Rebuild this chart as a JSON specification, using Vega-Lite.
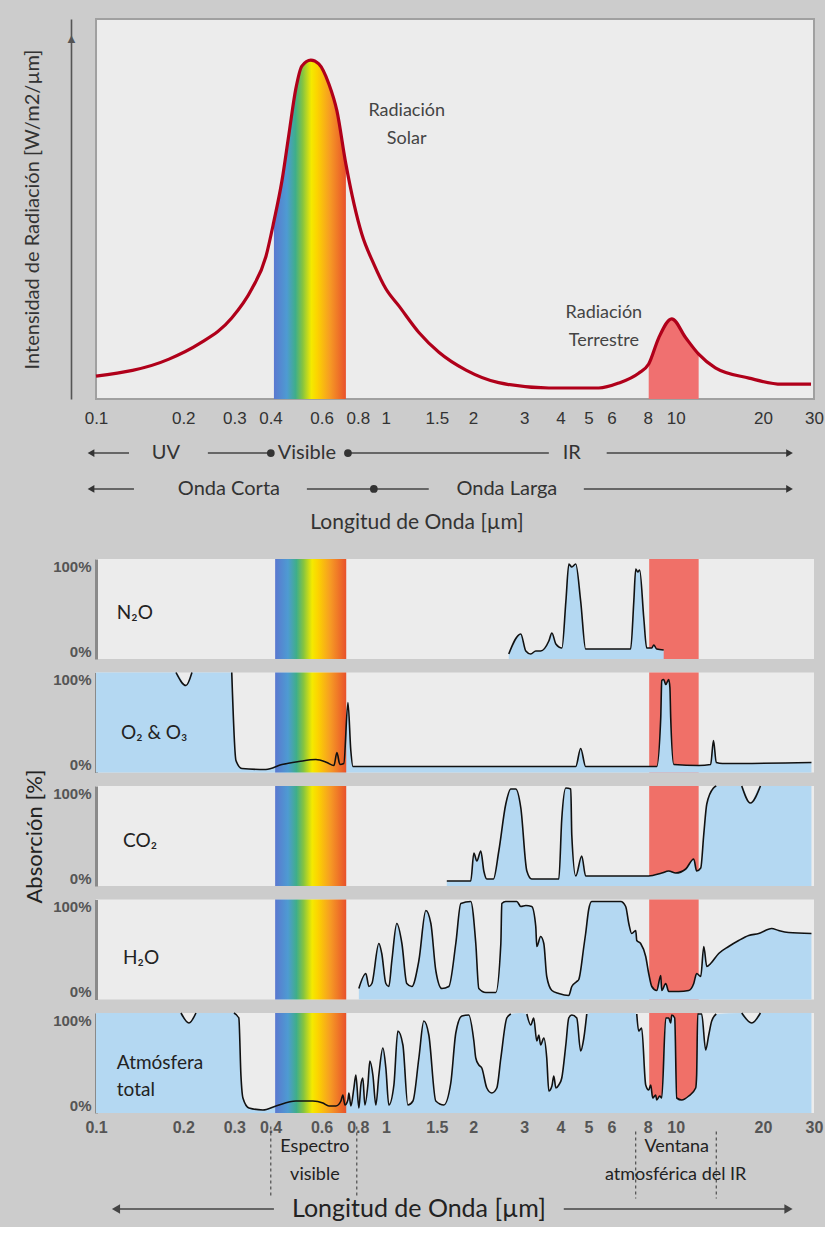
{
  "$schema": "https://vega.github.io/schema/vega-lite/v6.json",
  "background": "#cccccc",
  "padding": {"left": 21, "top": 18, "right": 0, "bottom": 0},
  "config": {
    "view": {"fill": "#ececec", "stroke": null},
    "axis": {"grid": false}
  },
  "datasets": {
    "solar": [
      {"x": 0.1, "v": 6}, {"x": 0.1786, "v": 10.5}, {"x": 0.2265, "v": 14.5}, {"x": 0.294, "v": 21.3},
      {"x": 0.345, "v": 29}, {"x": 0.3857, "v": 37.5}, {"x": 0.411, "v": 46.8}, {"x": 0.438, "v": 57.4},
      {"x": 0.463, "v": 69.7}, {"x": 0.489, "v": 81.6}, {"x": 0.513, "v": 87.6}, {"x": 0.551, "v": 89.2},
      {"x": 0.587, "v": 88.2}, {"x": 0.636, "v": 82.9}, {"x": 0.678, "v": 75.8}, {"x": 0.728, "v": 61.8},
      {"x": 0.826, "v": 43.4}, {"x": 0.909, "v": 35.5}, {"x": 1.0, "v": 29}, {"x": 1.109, "v": 24.5}, {"x": 1.3, "v": 17.5},
      {"x": 1.524, "v": 12.3}, {"x": 1.89, "v": 7.6}, {"x": 2.45, "v": 4.3}, {"x": 3.65, "v": 2.9},
      {"x": 5.43, "v": 2.9}, {"x": 6.36, "v": 4.2}, {"x": 7.45, "v": 6.8}, {"x": 8.07, "v": 9.2},
      {"x": 8.74, "v": 16.1}, {"x": 9.69, "v": 21.1}, {"x": 10.83, "v": 16.1}, {"x": 12.0, "v": 11.8},
      {"x": 13.7, "v": 8.2}, {"x": 17.9, "v": 5.5}, {"x": 23.2, "v": 3.9}, {"x": 29.3, "v": 3.9}
    ],
    "n2o": [
      {"x": 2.655, "v": 5, "s": "a"}, {"x": 2.92, "v": 25, "s": "a"}, {"x": 3.04, "v": 8, "s": "a"},
      {"x": 3.16, "v": 5, "s": "a"}, {"x": 3.29, "v": 8, "s": "a"}, {"x": 3.42, "v": 8, "s": "a"},
      {"x": 3.65, "v": 18, "s": "a"}, {"x": 3.74, "v": 26, "s": "a"}, {"x": 3.86, "v": 15, "s": "a"},
      {"x": 4.05, "v": 11, "s": "a"}, {"x": 4.18, "v": 58, "s": "a"}, {"x": 4.28, "v": 95, "s": "a"},
      {"x": 4.38, "v": 92, "s": "a"}, {"x": 4.52, "v": 95, "s": "a"}, {"x": 4.7, "v": 58, "s": "a"},
      {"x": 4.89, "v": 10, "s": "a"}, {"x": 6.99, "v": 10, "s": "a"}, {"x": 7.17, "v": 58, "s": "a"},
      {"x": 7.28, "v": 90, "s": "a"}, {"x": 7.4, "v": 87, "s": "a"}, {"x": 7.51, "v": 89, "s": "a"},
      {"x": 7.76, "v": 41, "s": "a"}, {"x": 7.94, "v": 11, "s": "a"}, {"x": 8.27, "v": 11, "s": "a"},
      {"x": 8.4, "v": 14, "s": "a"}, {"x": 8.6, "v": 10, "s": "a"}, {"x": 9.09, "v": 9, "s": "a"}
    ],
    "o2": [
      {"x": 0.1, "v": 100}, {"x": 0.1888, "v": 100, "s": "n"}, {"x": 0.2044, "v": 87, "s": "n"},
      {"x": 0.2143, "v": 100, "s": "n"}, {"x": 0.294, "v": 100, "s": "a"}, {"x": 0.304, "v": 12, "s": "a"},
      {"x": 0.3186, "v": 4, "s": "a"}, {"x": 0.3857, "v": 3, "s": "a"}, {"x": 0.438, "v": 8, "s": "a"},
      {"x": 0.501, "v": 11, "s": "a"}, {"x": 0.5736, "v": 13, "s": "a"}, {"x": 0.626, "v": 10, "s": "a"},
      {"x": 0.662, "v": 7, "s": "a"}, {"x": 0.678, "v": 20, "s": "a"}, {"x": 0.694, "v": 8, "s": "a"},
      {"x": 0.716, "v": 9, "s": "a"}, {"x": 0.74, "v": 70, "s": "a"}, {"x": 0.757, "v": 22, "s": "a"},
      {"x": 0.77, "v": 6, "s": "a"}, {"x": 0.853, "v": 6, "s": "a"}, {"x": 4.52, "v": 6, "s": "a"},
      {"x": 4.7, "v": 24, "s": "a"}, {"x": 4.89, "v": 6, "s": "a"}, {"x": 8.6, "v": 6, "s": "a"},
      {"x": 8.88, "v": 55, "s": "a"}, {"x": 8.95, "v": 92, "s": "a"}, {"x": 9.09, "v": 93, "s": "a"},
      {"x": 9.24, "v": 88, "s": "a"}, {"x": 9.46, "v": 93, "s": "a"}, {"x": 9.55, "v": 85, "s": "a"},
      {"x": 9.61, "v": 55, "s": "a"}, {"x": 9.85, "v": 8, "s": "a"}, {"x": 12.0, "v": 7, "s": "a"},
      {"x": 13.2, "v": 8, "s": "a"}, {"x": 13.5, "v": 32, "s": "a"}, {"x": 13.8, "v": 10, "s": "a"},
      {"x": 14.5, "v": 9, "s": "a"}, {"x": 29.4, "v": 10, "s": "a"}
    ],
    "co2": [
      {"x": 1.623, "v": 5, "s": "a"}, {"x": 1.963, "v": 5, "s": "a"}, {"x": 2.012, "v": 33, "s": "a"},
      {"x": 2.06, "v": 25, "s": "a"}, {"x": 2.126, "v": 35, "s": "a"}, {"x": 2.178, "v": 15, "s": "a"},
      {"x": 2.23, "v": 7, "s": "a"}, {"x": 2.35, "v": 7, "s": "a"}, {"x": 2.453, "v": 35, "s": "a"},
      {"x": 2.593, "v": 82, "s": "a"}, {"x": 2.698, "v": 97, "s": "a"}, {"x": 2.806, "v": 97, "s": "a"},
      {"x": 2.922, "v": 78, "s": "a"}, {"x": 3.065, "v": 15, "s": "a"}, {"x": 3.186, "v": 7, "s": "a"},
      {"x": 3.951, "v": 7, "s": "a"}, {"x": 4.045, "v": 67, "s": "a"}, {"x": 4.177, "v": 98, "s": "a"},
      {"x": 4.345, "v": 97, "s": "a"}, {"x": 4.38, "v": 51, "s": "a"}, {"x": 4.52, "v": 10, "s": "a"},
      {"x": 4.74, "v": 30, "s": "a"}, {"x": 4.89, "v": 10, "s": "a"}, {"x": 8.07, "v": 10, "s": "a"},
      {"x": 8.95, "v": 13, "s": "a"}, {"x": 9.46, "v": 15, "s": "a"}, {"x": 10.0, "v": 13, "s": "a"},
      {"x": 10.83, "v": 17, "s": "a"}, {"x": 11.54, "v": 27, "s": "a"}, {"x": 11.81, "v": 15, "s": "a"},
      {"x": 12.2, "v": 18, "s": "a"}, {"x": 12.5, "v": 52, "s": "a"}, {"x": 12.8, "v": 82, "s": "a"},
      {"x": 13.5, "v": 98, "s": "a"}, {"x": 13.8, "v": 100, "s": "a"}, {"x": 16.9, "v": 100, "s": "n"},
      {"x": 18.1, "v": 83, "s": "n"}, {"x": 19.6, "v": 100, "s": "n"}, {"x": 29.4, "v": 100}
    ],
    "h2o": [
      {"x": 0.807, "v": 11, "s": "a"}, {"x": 0.853, "v": 26, "s": "a"}, {"x": 0.874, "v": 13, "s": "a"},
      {"x": 0.895, "v": 16, "s": "a"}, {"x": 0.946, "v": 56, "s": "a"}, {"x": 0.968, "v": 46, "s": "a"},
      {"x": 1.0, "v": 16, "s": "a"}, {"x": 1.024, "v": 13, "s": "a"}, {"x": 1.049, "v": 39, "s": "a"},
      {"x": 1.091, "v": 76, "s": "a"}, {"x": 1.136, "v": 56, "s": "a"}, {"x": 1.181, "v": 16, "s": "a"},
      {"x": 1.229, "v": 13, "s": "a"}, {"x": 1.3, "v": 39, "s": "a"}, {"x": 1.374, "v": 89, "s": "a"},
      {"x": 1.43, "v": 76, "s": "a"}, {"x": 1.487, "v": 29, "s": "a"}, {"x": 1.56, "v": 11, "s": "a"},
      {"x": 1.649, "v": 13, "s": "a"}, {"x": 1.743, "v": 56, "s": "a"}, {"x": 1.814, "v": 96, "s": "a"},
      {"x": 1.963, "v": 98, "s": "a"}, {"x": 2.043, "v": 56, "s": "a"}, {"x": 2.093, "v": 11, "s": "a"},
      {"x": 2.213, "v": 7, "s": "a"}, {"x": 2.395, "v": 7, "s": "a"}, {"x": 2.493, "v": 56, "s": "a"},
      {"x": 2.512, "v": 96, "s": "a"}, {"x": 2.593, "v": 98, "s": "a"}, {"x": 2.829, "v": 98, "s": "a"},
      {"x": 2.922, "v": 93, "s": "a"}, {"x": 3.04, "v": 94, "s": "a"}, {"x": 3.186, "v": 93, "s": "a"},
      {"x": 3.29, "v": 73, "s": "a"}, {"x": 3.317, "v": 53, "s": "a"}, {"x": 3.42, "v": 63, "s": "a"},
      {"x": 3.507, "v": 56, "s": "a"}, {"x": 3.59, "v": 23, "s": "a"}, {"x": 3.74, "v": 9, "s": "a"},
      {"x": 3.95, "v": 6, "s": "a"}, {"x": 4.276, "v": 4, "s": "a"}, {"x": 4.38, "v": 13, "s": "a"},
      {"x": 4.557, "v": 18, "s": "a"}, {"x": 4.63, "v": 20, "s": "a"}, {"x": 4.82, "v": 53, "s": "a"},
      {"x": 4.89, "v": 66, "s": "a"}, {"x": 5.01, "v": 90, "s": "a"}, {"x": 5.13, "v": 98, "s": "a"},
      {"x": 6.46, "v": 98, "s": "a"}, {"x": 6.72, "v": 93, "s": "a"}, {"x": 6.89, "v": 76, "s": "a"},
      {"x": 7.05, "v": 66, "s": "a"}, {"x": 7.28, "v": 69, "s": "a"}, {"x": 7.34, "v": 59, "s": "a"},
      {"x": 7.57, "v": 56, "s": "a"}, {"x": 7.88, "v": 43, "s": "a"}, {"x": 8.07, "v": 26, "s": "a"},
      {"x": 8.27, "v": 13, "s": "a"}, {"x": 8.6, "v": 9, "s": "a"}, {"x": 8.88, "v": 24, "s": "a"},
      {"x": 8.95, "v": 9, "s": "a"}, {"x": 9.24, "v": 16, "s": "a"}, {"x": 9.46, "v": 8, "s": "a"},
      {"x": 10.24, "v": 8, "s": "a"}, {"x": 11.09, "v": 9, "s": "a"}, {"x": 11.54, "v": 16, "s": "a"},
      {"x": 11.81, "v": 26, "s": "a"}, {"x": 12.2, "v": 23, "s": "a"}, {"x": 12.5, "v": 53, "s": "a"},
      {"x": 12.8, "v": 33, "s": "a"}, {"x": 13.2, "v": 36, "s": "a"}, {"x": 14.07, "v": 46, "s": "a"},
      {"x": 15.23, "v": 53, "s": "a"}, {"x": 16.49, "v": 59, "s": "a"}, {"x": 17.86, "v": 64, "s": "a"},
      {"x": 19.33, "v": 66, "s": "a"}, {"x": 21.43, "v": 71, "s": "a"}, {"x": 22.65, "v": 69, "s": "a"},
      {"x": 24.5, "v": 67, "s": "a"}, {"x": 29.4, "v": 66, "s": "a"}
    ],
    "tot": [
      {"x": 0.1, "v": 100}, {"x": 0.1964, "v": 100, "s": "n"}, {"x": 0.2093, "v": 90, "s": "n"},
      {"x": 0.2212, "v": 100, "s": "n"}, {"x": 0.2991, "v": 100, "s": "a"}, {"x": 0.311, "v": 95, "s": "a"},
      {"x": 0.3162, "v": 38, "s": "a"}, {"x": 0.3213, "v": 15, "s": "a"}, {"x": 0.3371, "v": 5, "s": "a"},
      {"x": 0.3766, "v": 3, "s": "a"}, {"x": 0.4175, "v": 7, "s": "a"}, {"x": 0.4894, "v": 12, "s": "a"},
      {"x": 0.5598, "v": 12, "s": "a"}, {"x": 0.6065, "v": 10, "s": "a"}, {"x": 0.6362, "v": 7, "s": "a"},
      {"x": 0.6725, "v": 7, "s": "a"}, {"x": 0.6998, "v": 12, "s": "a"}, {"x": 0.7108, "v": 18, "s": "a"},
      {"x": 0.7222, "v": 8, "s": "a"}, {"x": 0.7396, "v": 13, "s": "a"}, {"x": 0.7455, "v": 20, "s": "a"},
      {"x": 0.7574, "v": 7, "s": "a"}, {"x": 0.7758, "v": 25, "s": "a"}, {"x": 0.788, "v": 38, "s": "a"},
      {"x": 0.807, "v": 5, "s": "a"}, {"x": 0.82, "v": 28, "s": "a"}, {"x": 0.833, "v": 35, "s": "a"},
      {"x": 0.8464, "v": 8, "s": "a"}, {"x": 0.867, "v": 28, "s": "a"}, {"x": 0.8807, "v": 52, "s": "a"},
      {"x": 0.902, "v": 38, "s": "a"}, {"x": 0.9237, "v": 8, "s": "a"}, {"x": 0.946, "v": 38, "s": "a"},
      {"x": 0.9765, "v": 65, "s": "a"}, {"x": 1.0, "v": 45, "s": "a"}, {"x": 1.024, "v": 8, "s": "a"},
      {"x": 1.066, "v": 28, "s": "a"}, {"x": 1.1, "v": 82, "s": "a"}, {"x": 1.145, "v": 68, "s": "a"},
      {"x": 1.191, "v": 8, "s": "a"}, {"x": 1.24, "v": 12, "s": "a"}, {"x": 1.3, "v": 55, "s": "a"},
      {"x": 1.352, "v": 92, "s": "a"}, {"x": 1.407, "v": 78, "s": "a"}, {"x": 1.487, "v": 12, "s": "a"},
      {"x": 1.585, "v": 8, "s": "a"}, {"x": 1.675, "v": 30, "s": "a"}, {"x": 1.743, "v": 80, "s": "a"},
      {"x": 1.829, "v": 97, "s": "a"}, {"x": 1.932, "v": 98, "s": "a"}, {"x": 2.012, "v": 72, "s": "a"},
      {"x": 2.043, "v": 55, "s": "a"}, {"x": 2.093, "v": 48, "s": "a"}, {"x": 2.143, "v": 45, "s": "a"},
      {"x": 2.23, "v": 25, "s": "a"}, {"x": 2.32, "v": 20, "s": "a"}, {"x": 2.414, "v": 25, "s": "a"},
      {"x": 2.493, "v": 55, "s": "a"}, {"x": 2.614, "v": 95, "s": "a"}, {"x": 2.7, "v": 99, "s": "a"},
      {"x": 2.9, "v": 100}, {"x": 3.065, "v": 99, "s": "b"}, {"x": 3.162, "v": 88, "s": "b"},
      {"x": 3.237, "v": 95, "s": "b"}, {"x": 3.317, "v": 72, "s": "b"}, {"x": 3.371, "v": 78, "s": "b"},
      {"x": 3.42, "v": 68, "s": "b"}, {"x": 3.507, "v": 75, "s": "b"}, {"x": 3.59, "v": 55, "s": "b"},
      {"x": 3.65, "v": 22, "s": "b"}, {"x": 3.74, "v": 27, "s": "b"}, {"x": 3.797, "v": 37, "s": "b"},
      {"x": 3.86, "v": 25, "s": "b"}, {"x": 3.95, "v": 28, "s": "b"}, {"x": 4.045, "v": 35, "s": "b"},
      {"x": 4.177, "v": 68, "s": "b"}, {"x": 4.276, "v": 95, "s": "b"}, {"x": 4.38, "v": 98, "s": "b"},
      {"x": 4.557, "v": 95, "s": "b"}, {"x": 4.7, "v": 62, "s": "b"}, {"x": 4.82, "v": 75, "s": "b"},
      {"x": 4.933, "v": 99, "s": "b"}, {"x": 5.09, "v": 100}, {"x": 7.2, "v": 100},
      {"x": 7.34, "v": 99, "s": "c"}, {"x": 7.45, "v": 82, "s": "c"}, {"x": 7.63, "v": 85, "s": "c"},
      {"x": 7.88, "v": 28, "s": "c"}, {"x": 8.07, "v": 23, "s": "c"}, {"x": 8.2, "v": 28, "s": "c"},
      {"x": 8.33, "v": 15, "s": "c"}, {"x": 8.53, "v": 18, "s": "c"}, {"x": 8.6, "v": 13, "s": "c"},
      {"x": 8.81, "v": 17, "s": "c"}, {"x": 8.95, "v": 15, "s": "c"}, {"x": 9.24, "v": 95, "s": "c"},
      {"x": 9.46, "v": 95, "s": "c"}, {"x": 9.61, "v": 90, "s": "c"}, {"x": 9.69, "v": 98, "s": "c"},
      {"x": 9.92, "v": 95, "s": "c"}, {"x": 10.08, "v": 15, "s": "c"}, {"x": 10.49, "v": 13, "s": "c"},
      {"x": 11.09, "v": 17, "s": "c"}, {"x": 11.72, "v": 25, "s": "c"}, {"x": 11.81, "v": 38, "s": "c"},
      {"x": 11.91, "v": 99, "s": "c"}, {"x": 12.29, "v": 99, "s": "c"}, {"x": 12.69, "v": 63, "s": "c"},
      {"x": 13.0, "v": 78, "s": "c"}, {"x": 13.31, "v": 92, "s": "c"}, {"x": 13.8, "v": 99, "s": "c"},
      {"x": 16.9, "v": 100, "s": "m"}, {"x": 18.3, "v": 90, "s": "m"}, {"x": 19.6, "v": 100, "s": "m"},
      {"x": 29.4, "v": 100}
    ],
    "redband": [{"x": 8.1, "x2": 12.0, "v": 0, "v2": 100}],
    "rainbow": [{"x": 0.415, "x2": 0.73, "v": 0, "v2": 100}]
  },
  "vconcat": [
    {
      "width": 718,
      "height": 380,
      "view": {"fill": "#ececec", "stroke": "#a0a0a0", "strokeWidth": 2},
      "encoding": {
        "x": {"field": "x", "type": "quantitative", "scale": {"type": "log", "domain": [0.1, 30], "nice": false},
          "axis": {"values": [0.1, 0.2, 0.3, 0.4, 0.6, 0.8, 1, 1.5, 2, 3, 4, 5, 6, 8, 10, 20, 30], "format": "~g", "title": null,
            "domain": false, "ticks": false, "tickSize": 0, "labelPadding": 11, "labelFont": "Liberation Sans Narrow, Liberation Sans, sans-serif",
            "labelFontSize": 17, "labelColor": "#333", "labelOverlap": false, "labelFlush": false, "labelBound": false}},
        "y": {"field": "v", "type": "quantitative", "scale": {"domain": [0, 100], "nice": false},
          "axis": {"title": "Intensidad de Radiación [W/m2/µm]", "values": [95], "labelExpr": "'▲'", "offset": 25,
            "domainColor": "#555", "domainWidth": 1.6, "ticks": false, "tickSize": 0, "labelPadding": 0,
            "labelAlign": "center", "labelBaseline": "middle", "labelFontSize": 13, "labelColor": "#555", "labelFlush": false,
            "titleFont": "Lato", "titleFontSize": 20, "titleFontWeight": "normal", "titleColor": "#333", "titlePadding": 22}}
      },
      "layer": [
        {"data": {"name": "solar"}, "transform": [{"filter": "datum.x >= 8.07 && datum.x <= 12.0"}],
          "mark": {"type": "area", "color": "#f07070", "interpolate": "monotone"}},
        {"data": {"name": "solar"}, "transform": [{"filter": "datum.x >= 0.411 && datum.x <= 0.728"}],
          "mark": {"type": "area", "interpolate": "monotone", "fill": {"gradient": "linear", "x1": 0, "y1": 0, "x2": 1, "y2": 0,
            "stops": [{"offset": 0, "color": "#5a78d0"}, {"offset": 0.18, "color": "#4e9bd2"}, {"offset": 0.3, "color": "#3fae8a"},
              {"offset": 0.4, "color": "#86c440"}, {"offset": 0.52, "color": "#f4ea00"}, {"offset": 0.6, "color": "#fcd400"},
              {"offset": 0.78, "color": "#f69a24"}, {"offset": 1, "color": "#e8512b"}]}}},
        {"data": {"name": "solar"}, "mark": {"type": "line", "color": "#b0001a", "strokeWidth": 3.2, "interpolate": "monotone"}},
        {"data": {"values": [
            {"x": 1.18, "v": 75.8, "t": "Radiación"}, {"x": 1.18, "v": 68.4, "t": "Solar"},
            {"x": 5.65, "v": 22.6, "t": "Radiación"}, {"x": 5.65, "v": 15.3, "t": "Terrestre"}]},
          "mark": {"type": "text", "font": "Lato", "fontSize": 18, "color": "#444", "align": "center", "baseline": "middle"},
          "encoding": {"text": {"field": "t"}}}
      ]
    },
    {
      "width": 718,
      "height": 133,
      "view": {"fill": "transparent", "stroke": "transparent"},
      "encoding": {
        "x": {"field": "x", "type": "quantitative", "scale": {"type": "log", "domain": [0.1, 30], "nice": false}, "axis": null},
        "y": {"field": "y", "type": "quantitative", "scale": {"domain": [0, 1], "reverse": true, "nice": false}, "axis": null}
      },
      "layer": [
        {"data": {"values": [
            {"x": 0.0961, "x2": 0.13, "y": 0.305}, {"x": 0.2432, "x2": 0.401, "y": 0.305}, {"x": 0.74, "x2": 3.65, "y": 0.305},
            {"x": 5.78, "x2": 24.7, "y": 0.305}, {"x": 0.0961, "x2": 0.1352, "y": 0.575}, {"x": 0.534, "x2": 1.406, "y": 0.575},
            {"x": 4.82, "x2": 24.7, "y": 0.575}]},
          "mark": {"type": "rule", "color": "#444", "strokeWidth": 1.5},
          "encoding": {"x2": {"field": "x2"}}},
        {"data": {"values": [
            {"x": 0.401, "y": 0.305, "sh": "circle"}, {"x": 0.74, "y": 0.305, "sh": "circle"}, {"x": 0.909, "y": 0.575, "sh": "circle"},
            {"x": 0.0961, "y": 0.305, "sh": "triangle-left"}, {"x": 0.0961, "y": 0.575, "sh": "triangle-left"},
            {"x": 24.7, "y": 0.305, "sh": "triangle-right"}, {"x": 24.7, "y": 0.575, "sh": "triangle-right"}]},
          "mark": {"type": "point", "filled": true, "color": "#333", "opacity": 1, "size": 60},
          "encoding": {"shape": {"field": "sh", "type": "nominal", "scale": null}}},
        {"data": {"values": [
            {"x": 0.1743, "y": 0.305, "t": "UV", "f": 20}, {"x": 0.534, "y": 0.305, "t": "Visible", "f": 20},
            {"x": 4.38, "y": 0.305, "t": "IR", "f": 20}, {"x": 0.2875, "y": 0.575, "t": "Onda Corta", "f": 20},
            {"x": 2.615, "y": 0.575, "t": "Onda Larga", "f": 20}, {"x": 1.28, "y": 0.831, "t": "Longitud de Onda [µm]", "f": 21}]},
          "mark": {"type": "text", "font": "Lato", "color": "#333", "align": "center", "baseline": "middle"},
          "encoding": {"text": {"field": "t"}, "size": {"field": "f", "type": "quantitative", "scale": null}}}
      ]
    },
    {
      "width": 718, "height": 100,
      "encoding": {
        "x": {"field": "x", "type": "quantitative", "scale": {"type": "log", "domain": [0.1, 30], "nice": false}, "axis": null},
        "y": {"field": "v", "type": "quantitative", "scale": {"domain": [0, 100], "nice": false},
          "axis": {"values": [0, 100], "labelExpr": "datum.value + '%'", "title": null, "ticks": false, "tickSize": 0,
            "domainColor": "#8a8a8a", "domainWidth": 3, "labelPadding": 5, "labelFont": "Liberation Sans", "labelFontWeight": "bold",
            "labelFontSize": 15, "labelColor": "#555", "labelFlush": true, "labelFlushOffset": 0}}
      },
      "layer": [
        {"data": {"name": "redband"}, "mark": {"type": "rect", "color": "#f07068"}, "encoding": {"x2": {"field": "x2"}, "y2": {"field": "v2"}}},
        {"data": {"name": "n2o"}, "mark": {"type": "area", "color": "#b4d8f2", "interpolate": "monotone"}},
        {"data": {"name": "rainbow"}, "mark": {"type": "rect", "fill": {"gradient": "linear", "x1": 0, "y1": 0, "x2": 1, "y2": 0,
            "stops": [{"offset": 0, "color": "#5a78d0"}, {"offset": 0.18, "color": "#4e9bd2"}, {"offset": 0.3, "color": "#3fae8a"},
              {"offset": 0.4, "color": "#86c440"}, {"offset": 0.52, "color": "#f4ea00"}, {"offset": 0.6, "color": "#fcd400"},
              {"offset": 0.78, "color": "#f69a24"}, {"offset": 1, "color": "#e8512b"}]}},
          "encoding": {"x2": {"field": "x2"}, "y2": {"field": "v2"}}},
        {"data": {"name": "n2o"}, "transform": [{"filter": "isValid(datum.s)"}],
          "mark": {"type": "line", "color": "#111", "strokeWidth": 1.6, "interpolate": "monotone"}, "encoding": {"detail": {"field": "s"}}},
        {"data": {"values": [{"x": 0.118, "v": 46, "t": "N₂O"}]},
          "mark": {"type": "text", "font": "Lato", "fontSize": 19, "color": "#222", "align": "left", "baseline": "middle"},
          "encoding": {"text": {"field": "t"}}}
      ]
    },
    {
      "width": 718, "height": 100,
      "encoding": {
        "x": {"field": "x", "type": "quantitative", "scale": {"type": "log", "domain": [0.1, 30], "nice": false}, "axis": null},
        "y": {"field": "v", "type": "quantitative", "scale": {"domain": [0, 100], "nice": false},
          "axis": {"values": [0, 100], "labelExpr": "datum.value + '%'", "title": null, "ticks": false, "tickSize": 0,
            "domainColor": "#8a8a8a", "domainWidth": 3, "labelPadding": 5, "labelFont": "Liberation Sans", "labelFontWeight": "bold",
            "labelFontSize": 15, "labelColor": "#555", "labelFlush": true, "labelFlushOffset": 0}}
      },
      "layer": [
        {"data": {"name": "redband"}, "mark": {"type": "rect", "color": "#f07068"}, "encoding": {"x2": {"field": "x2"}, "y2": {"field": "v2"}}},
        {"data": {"name": "o2"}, "mark": {"type": "area", "color": "#b4d8f2", "interpolate": "monotone"}},
        {"data": {"name": "rainbow"}, "mark": {"type": "rect", "fill": {"gradient": "linear", "x1": 0, "y1": 0, "x2": 1, "y2": 0,
            "stops": [{"offset": 0, "color": "#5a78d0"}, {"offset": 0.18, "color": "#4e9bd2"}, {"offset": 0.3, "color": "#3fae8a"},
              {"offset": 0.4, "color": "#86c440"}, {"offset": 0.52, "color": "#f4ea00"}, {"offset": 0.6, "color": "#fcd400"},
              {"offset": 0.78, "color": "#f69a24"}, {"offset": 1, "color": "#e8512b"}]}},
          "encoding": {"x2": {"field": "x2"}, "y2": {"field": "v2"}}},
        {"data": {"name": "o2"}, "transform": [{"filter": "isValid(datum.s)"}],
          "mark": {"type": "line", "color": "#111", "strokeWidth": 1.6, "interpolate": "monotone"}, "encoding": {"detail": {"field": "s"}}},
        {"data": {"values": [{"x": 0.122, "v": 40, "t": "O₂ & O₃"}]},
          "mark": {"type": "text", "font": "Lato", "fontSize": 19, "color": "#222", "align": "left", "baseline": "middle"},
          "encoding": {"text": {"field": "t"}}}
      ]
    },
    {
      "width": 718, "height": 100,
      "encoding": {
        "x": {"field": "x", "type": "quantitative", "scale": {"type": "log", "domain": [0.1, 30], "nice": false}, "axis": null},
        "y": {"field": "v", "type": "quantitative", "scale": {"domain": [0, 100], "nice": false},
          "axis": {"values": [0, 100], "labelExpr": "datum.value + '%'", "title": "Absorción [%]", "ticks": false, "tickSize": 0,
            "domainColor": "#8a8a8a", "domainWidth": 3, "labelPadding": 5, "labelFont": "Liberation Sans", "labelFontWeight": "bold",
            "labelFontSize": 15, "labelColor": "#555", "labelFlush": true, "labelFlushOffset": 0,
            "titleFont": "Lato", "titleFontSize": 22, "titleFontWeight": "normal", "titleColor": "#222", "titlePadding": 6}}
      },
      "layer": [
        {"data": {"name": "redband"}, "mark": {"type": "rect", "color": "#f07068"}, "encoding": {"x2": {"field": "x2"}, "y2": {"field": "v2"}}},
        {"data": {"name": "co2"}, "mark": {"type": "area", "color": "#b4d8f2", "interpolate": "monotone"}},
        {"data": {"name": "rainbow"}, "mark": {"type": "rect", "fill": {"gradient": "linear", "x1": 0, "y1": 0, "x2": 1, "y2": 0,
            "stops": [{"offset": 0, "color": "#5a78d0"}, {"offset": 0.18, "color": "#4e9bd2"}, {"offset": 0.3, "color": "#3fae8a"},
              {"offset": 0.4, "color": "#86c440"}, {"offset": 0.52, "color": "#f4ea00"}, {"offset": 0.6, "color": "#fcd400"},
              {"offset": 0.78, "color": "#f69a24"}, {"offset": 1, "color": "#e8512b"}]}},
          "encoding": {"x2": {"field": "x2"}, "y2": {"field": "v2"}}},
        {"data": {"name": "co2"}, "transform": [{"filter": "isValid(datum.s)"}],
          "mark": {"type": "line", "color": "#111", "strokeWidth": 1.6, "interpolate": "monotone"}, "encoding": {"detail": {"field": "s"}}},
        {"data": {"values": [{"x": 0.124, "v": 45, "t": "CO₂"}]},
          "mark": {"type": "text", "font": "Lato", "fontSize": 19, "color": "#222", "align": "left", "baseline": "middle"},
          "encoding": {"text": {"field": "t"}}}
      ]
    },
    {
      "width": 718, "height": 100,
      "encoding": {
        "x": {"field": "x", "type": "quantitative", "scale": {"type": "log", "domain": [0.1, 30], "nice": false}, "axis": null},
        "y": {"field": "v", "type": "quantitative", "scale": {"domain": [0, 100], "nice": false},
          "axis": {"values": [0, 100], "labelExpr": "datum.value + '%'", "title": null, "ticks": false, "tickSize": 0,
            "domainColor": "#8a8a8a", "domainWidth": 3, "labelPadding": 5, "labelFont": "Liberation Sans", "labelFontWeight": "bold",
            "labelFontSize": 15, "labelColor": "#555", "labelFlush": true, "labelFlushOffset": 0}}
      },
      "layer": [
        {"data": {"name": "redband"}, "mark": {"type": "rect", "color": "#f07068"}, "encoding": {"x2": {"field": "x2"}, "y2": {"field": "v2"}}},
        {"data": {"name": "h2o"}, "mark": {"type": "area", "color": "#b4d8f2", "interpolate": "monotone"}},
        {"data": {"name": "rainbow"}, "mark": {"type": "rect", "fill": {"gradient": "linear", "x1": 0, "y1": 0, "x2": 1, "y2": 0,
            "stops": [{"offset": 0, "color": "#5a78d0"}, {"offset": 0.18, "color": "#4e9bd2"}, {"offset": 0.3, "color": "#3fae8a"},
              {"offset": 0.4, "color": "#86c440"}, {"offset": 0.52, "color": "#f4ea00"}, {"offset": 0.6, "color": "#fcd400"},
              {"offset": 0.78, "color": "#f69a24"}, {"offset": 1, "color": "#e8512b"}]}},
          "encoding": {"x2": {"field": "x2"}, "y2": {"field": "v2"}}},
        {"data": {"name": "h2o"}, "transform": [{"filter": "isValid(datum.s)"}],
          "mark": {"type": "line", "color": "#111", "strokeWidth": 1.6, "interpolate": "monotone"}, "encoding": {"detail": {"field": "s"}}},
        {"data": {"values": [{"x": 0.124, "v": 42, "t": "H₂O"}]},
          "mark": {"type": "text", "font": "Lato", "fontSize": 19, "color": "#222", "align": "left", "baseline": "middle"},
          "encoding": {"text": {"field": "t"}}}
      ]
    },
    {
      "width": 718, "height": 100,
      "encoding": {
        "x": {"field": "x", "type": "quantitative", "scale": {"type": "log", "domain": [0.1, 30], "nice": false},
          "axis": {"values": [0.1, 0.2, 0.3, 0.4, 0.6, 0.8, 1, 1.5, 2, 3, 4, 5, 6, 8, 10, 20, 30], "format": "~g", "title": null,
            "domain": false, "ticks": false, "tickSize": 0, "labelPadding": 6, "labelFont": "Liberation Sans", "labelFontWeight": "bold",
            "labelFontSize": 16, "labelColor": "#555", "labelOverlap": false, "labelFlush": false, "labelBound": false}},
        "y": {"field": "v", "type": "quantitative", "scale": {"domain": [0, 100], "nice": false},
          "axis": {"values": [0, 100], "labelExpr": "datum.value + '%'", "title": null, "ticks": false, "tickSize": 0,
            "domainColor": "#8a8a8a", "domainWidth": 3, "labelPadding": 5, "labelFont": "Liberation Sans", "labelFontWeight": "bold",
            "labelFontSize": 15, "labelColor": "#555", "labelFlush": true, "labelFlushOffset": 0}}
      },
      "layer": [
        {"data": {"name": "redband"}, "mark": {"type": "rect", "color": "#f07068"}, "encoding": {"x2": {"field": "x2"}, "y2": {"field": "v2"}}},
        {"data": {"name": "tot"}, "mark": {"type": "area", "color": "#b4d8f2", "interpolate": "monotone"}},
        {"data": {"name": "rainbow"}, "mark": {"type": "rect", "fill": {"gradient": "linear", "x1": 0, "y1": 0, "x2": 1, "y2": 0,
            "stops": [{"offset": 0, "color": "#5a78d0"}, {"offset": 0.18, "color": "#4e9bd2"}, {"offset": 0.3, "color": "#3fae8a"},
              {"offset": 0.4, "color": "#86c440"}, {"offset": 0.52, "color": "#f4ea00"}, {"offset": 0.6, "color": "#fcd400"},
              {"offset": 0.78, "color": "#f69a24"}, {"offset": 1, "color": "#e8512b"}]}},
          "encoding": {"x2": {"field": "x2"}, "y2": {"field": "v2"}}},
        {"data": {"name": "tot"}, "transform": [{"filter": "isValid(datum.s)"}],
          "mark": {"type": "line", "color": "#111", "strokeWidth": 1.6, "interpolate": "monotone"}, "encoding": {"detail": {"field": "s"}}},
        {"data": {"values": [{"x": 0.118, "v": 50, "t": "Atmósfera"}, {"x": 0.118, "v": 23, "t": "total"}]},
          "mark": {"type": "text", "font": "Lato", "fontSize": 19, "color": "#222", "align": "left", "baseline": "middle"},
          "encoding": {"text": {"field": "t"}}}
      ]
    },
    {
      "width": 718,
      "height": 100,
      "view": {"fill": "transparent", "stroke": "transparent"},
      "encoding": {
        "x": {"field": "x", "type": "quantitative", "scale": {"type": "log", "domain": [0.1, 30], "nice": false}, "axis": null},
        "y": {"field": "y", "type": "quantitative", "scale": {"domain": [0, 1], "reverse": true, "nice": false}, "axis": null}
      },
      "layer": [
        {"data": {"values": [
            {"x": 0.401, "y": 0, "y2": 0.695}, {"x": 0.794, "y": 0, "y2": 0.695},
            {"x": 7.28, "y": 0.05, "y2": 0.72}, {"x": 13.8, "y": 0.05, "y2": 0.72}]},
          "mark": {"type": "rule", "color": "#333", "strokeWidth": 1, "strokeDash": [3, 3]},
          "encoding": {"y2": {"field": "y2"}}},
        {"data": {"values": [{"x": 0.1172, "x2": 0.411, "y": 0.825}, {"x": 4.11, "x2": 24.5, "y": 0.825}]},
          "mark": {"type": "rule", "color": "#444", "strokeWidth": 1.5},
          "encoding": {"x2": {"field": "x2"}}},
        {"data": {"values": [{"x": 0.1172, "y": 0.825, "sh": "triangle-left"}, {"x": 24.5, "y": 0.825, "sh": "triangle-right"}]},
          "mark": {"type": "point", "filled": true, "color": "#444", "opacity": 1, "size": 90},
          "encoding": {"shape": {"field": "sh", "type": "nominal", "scale": null}}},
        {"data": {"values": [
            {"x": 0.569, "y": 0.2, "t": "Espectro", "f": 18}, {"x": 0.569, "y": 0.48, "t": "visible", "f": 18},
            {"x": 10.08, "y": 0.2, "t": "Ventana", "f": 18}, {"x": 10.0, "y": 0.48, "t": "atmosférica del IR", "f": 18},
            {"x": 1.3, "y": 0.825, "t": "Longitud de Onda [µm]", "f": 25}]},
          "mark": {"type": "text", "font": "Lato", "color": "#222", "align": "center", "baseline": "middle"},
          "encoding": {"text": {"field": "t"}, "size": {"field": "f", "type": "quantitative", "scale": null}}}
      ]
    }
  ],
  "spacing": 13.5,
  "bounds": "flush",
  "resolve": {"scale": {"x": "independent", "y": "independent"}}
}
